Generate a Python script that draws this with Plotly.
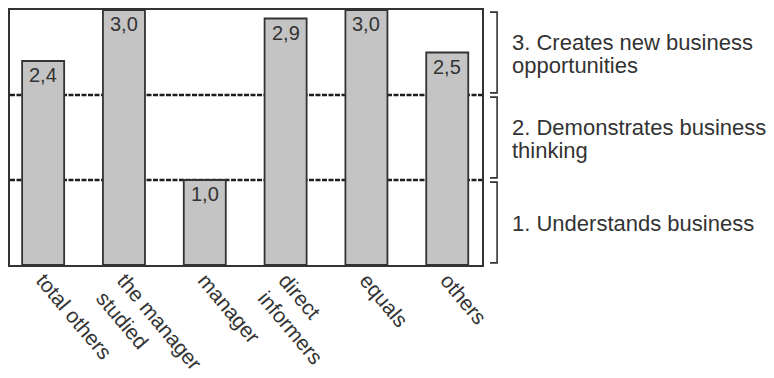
import plotly.graph_objects as go

# Scores per respondent group
groups = ["total others", "the manager<br>studied", "manager",
          "direct<br>informers", "equals", "others"]
scores = [2.4, 3.0, 1.0, 2.9, 3.0, 2.5]

# Competence levels shown on the right-hand side
level_values = [1, 2, 3]
level_lines = [
    ["1. Understands business"],
    ["2. Demonstrates business", "thinking"],
    ["3. Creates new business", "opportunities"],
]

FONT = "Liberation Sans, Arial, sans-serif"
INK = "#333333"
x_idx = list(range(len(groups)))

fig = go.Figure()
fig.add_trace(go.Bar(
    x=x_idx, y=scores, width=0.52,
    marker=dict(color="#c4c4c4", line=dict(color=INK, width=1.8)),
    hoverinfo="skip",
))

# Value labels just inside the top of each bar
for i, v in zip(x_idx, scores):
    fig.add_annotation(x=i, y=v, text=f"{v:.1f}".replace(".", ","),
                       showarrow=False, yanchor="top", yshift=-1,
                       font=dict(family=FONT, size=20, color=INK))

shapes = []
# Dashed boundaries between levels, drawn behind the bars
for lv in level_values[:-1]:
    shapes.append(dict(type="line", xref="paper", yref="y", x0=0, x1=1,
                       y0=lv, y1=lv, layer="below",
                       line=dict(color="#1e1e1e", width=2.6, dash="5px,1.5px")))

# Brackets and captions for each level
bx0, bx1 = 1.017, 1.032
for lv, lines in zip(level_values, level_lines):
    lo, hi = lv - 1 + 0.025, lv - 0.025
    path = f"M {bx0},{hi} L {bx1},{hi} L {bx1},{lo} L {bx0},{lo}"
    shapes.append(dict(type="path", xref="paper", yref="y", path=path,
                       line=dict(color=INK, width=1.6)))
    n = len(lines)
    for k, line in enumerate(lines):
        offset = (k - (n - 1) / 2) * 23
        fig.add_annotation(xref="paper", yref="y", x=1.059, y=lv - 0.5,
                           xanchor="left", yanchor="middle",
                           yshift=-offset - 1,
                           text=line, showarrow=False,
                           font=dict(family=FONT, size=22, color=INK))

fig.update_layout(
    width=774, height=378,
    margin=dict(l=10, r=292, t=10, b=113, autoexpand=False),
    plot_bgcolor="white", paper_bgcolor="white",
    showlegend=False, shapes=shapes,
    font=dict(family=FONT, color=INK),
)
fig.update_xaxes(
    range=[-0.41, 5.43], tickmode="array", tickvals=x_idx, ticktext=groups,
    tickangle=50, tickfont=dict(family=FONT, size=21, color=INK),
    ticklabelstandoff=-7,
    showline=True, mirror=True, linecolor=INK, linewidth=1.8,
    showgrid=False, zeroline=False, ticks="", automargin=False,
)
fig.update_yaxes(
    range=[0, 3.0], showticklabels=False, showgrid=False, zeroline=False,
    showline=True, mirror=True, linecolor=INK, linewidth=1.8, ticks="",
    automargin=False,
)

fig.write_html("out.html")
